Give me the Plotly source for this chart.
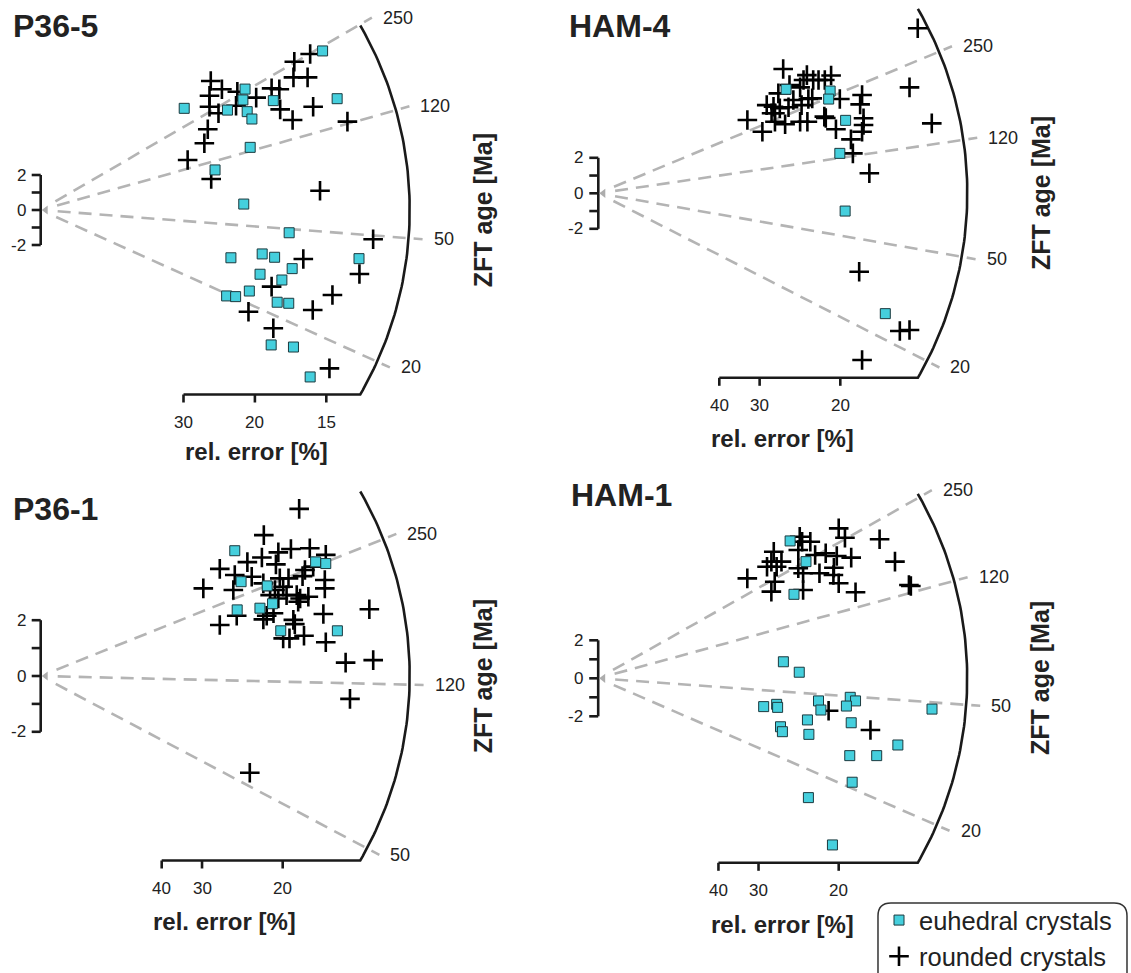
import math
import plotly.graph_objects as go

W, H = 1131, 973
FONT = "Liberation Sans, Arial, sans-serif"
TXT = "#222222"
CYAN = "#45CFDD"
SQ_EDGE = "#1B3A3F"
GREY = "#B4B4B4"

# ---------------- data (precision = 1/rel.error, standardised estimate) ----------------
p365_eu_prec = [6.58, 3.35, 4.77, 4.72, 4.36, 4.82, 4.93, 5.43, 6.92, 4.89, 4.07, 4.74, 5.80, 4.44,
                5.17, 5.46, 5.87, 5.12, 5.63, 4.87, 4.34, 4.55, 5.52, 5.79, 7.43, 5.38, 5.90, 6.29]
p365_eu_z = [9.09, 5.81, 6.91, 6.29, 5.71, 5.62, 5.20, 6.25, 6.36, 3.58, 2.29, 0.34, -1.30, -2.73,
             -2.51, -2.70, -3.35, -3.67, -4.00, -4.63, -4.91, -4.95, -5.27, -5.33, -2.78, -7.71, -7.83, -9.54]
p365_ro_prec = [6.29, 5.92, 6.23, 5.90, 3.97, 4.23, 4.59, 3.94, 5.39, 5.57, 5.03, 4.56, 3.94, 4.15, 5.59, 6.36,
                5.88, 7.16, 3.90, 3.82, 3.43, 3.98, 6.52, 7.76, 6.13, 7.44, 5.39, 6.81, 4.85, 6.35, 5.43, 6.74]
p365_ro_z = [8.91, 8.47, 7.58, 7.58, 7.37, 6.90, 6.76, 6.53, 6.95, 6.90, 6.42, 5.96, 5.90, 5.53, 5.75, 5.90,
             5.14, 5.05, 4.61, 3.81, 2.86, 1.77, 1.10, -1.67, -2.80, -3.66, -4.38, -4.86, -5.81, -5.71, -6.76, -9.05]

ham4_eu_prec = [3.88, 4.79, 4.76, 5.11, 4.99, 5.10, 5.93]
ham4_eu_z = [5.86, 5.76, 5.31, 4.11, 2.25, -1.00, -6.78]
ham4_ro_prec = [6.60, 3.82, 4.31, 4.81, 4.24, 4.44, 4.68, 3.95, 4.17, 6.43, 3.72, 4.03, 4.34, 4.99, 5.45,
                5.41, 3.48, 3.62, 3.75, 3.93, 4.20, 3.65, 3.08, 3.65, 3.86, 4.17, 4.32, 4.67, 4.70, 5.48,
                5.48, 5.45, 4.91, 3.39, 5.22, 5.26, 6.89, 5.60, 5.39, 6.23, 6.43, 5.45, 4.55, 4.42, 3.58]
ham4_ro_z = [9.30, 7.00, 6.66, 6.64, 6.38, 6.38, 6.38, 6.10, 5.97, 5.97, 5.63, 5.26, 5.31, 5.31, 5.54,
             5.01, 4.97, 4.88, 4.79, 4.85, 4.97, 4.51, 4.13, 4.03, 3.89, 4.03, 4.03, 4.32, 4.24, 4.23,
             3.85, 3.47, 3.61, 3.47, 3.04, 2.25, 3.94, 1.13, -4.42, -7.76, -7.70, -9.39, 6.38, 5.35, 4.51]

p361_eu_prec = [4.01, 5.68, 5.89, 4.14, 4.68, 4.79, 4.06, 4.53, 4.96, 6.13]
p361_eu_z = [4.49, 4.09, 4.03, 3.38, 3.23, 2.59, 2.37, 2.43, 1.62, 1.62]
p361_ro_prec = [5.34, 4.61, 5.17, 5.56, 4.91, 4.57, 5.89, 4.27, 4.86, 5.63, 3.70, 4.01, 4.36, 5.41, 4.94, 5.12,
                5.87, 4.60, 3.36, 3.98, 5.01, 5.08, 5.87, 4.74, 5.29, 5.36, 5.53, 4.91, 5.32, 6.79, 4.05, 4.67,
                4.60, 4.81, 5.84, 3.70, 5.22, 5.25, 5.01, 5.14, 5.44, 5.89, 6.30, 6.87, 6.39, 4.32, 5.46, 4.84]
p361_ro_z = [5.99, 5.05, 4.55, 4.58, 4.43, 4.25, 4.34, 4.08, 4.00, 3.92, 3.84, 3.62, 3.56, 3.58, 3.50, 3.50,
             3.44, 3.32, 3.14, 3.08, 3.20, 2.90, 3.14, 2.90, 2.90, 2.78, 2.84, 2.78, 2.66, 2.39, 2.16, 2.16,
             2.03, 2.25, 2.22, 1.83, 2.01, 1.86, 1.35, 1.35, 1.44, 1.21, 0.48, 0.57, -0.82, -3.47, 3.80, 3.08]

ham1_eu_prec = [3.99, 4.32, 4.07, 3.85, 4.18, 3.44, 3.71, 3.73, 4.58, 4.63, 5.24, 5.35, 5.16, 6.94, 4.35,
                5.26, 3.79, 3.83, 4.38, 6.23, 5.23, 5.79, 5.28, 4.37, 4.87]
ham1_eu_z = [7.23, 6.14, 4.42, 0.87, 0.32, -1.49, -1.37, -1.53, -1.19, -1.67, -1.00, -1.19, -1.46, -1.62, -2.19,
             -2.34, -2.55, -2.81, -2.95, -3.51, -4.07, -4.07, -5.47, -6.28, -8.77]
ham1_ro_prec = [5.00, 5.13, 5.85, 4.19, 4.24, 4.41, 4.16, 3.65, 4.51, 4.73, 4.96, 5.26, 3.60, 6.17, 3.51, 3.71,
                4.16, 4.90, 4.60, 4.26, 3.10, 3.67, 5.00, 4.26, 3.60, 5.35, 6.46, 6.50, 4.79, 5.66, 3.81, 4.89]
ham1_ro_z = [7.89, 7.40, 7.32, 7.45, 7.19, 7.19, 6.75, 6.66, 6.49, 6.58, 6.44, 6.35, 6.14, 6.14, 5.87, 5.87,
             5.79, 5.82, 5.53, 5.53, 5.26, 5.08, 5.00, 4.65, 4.56, 4.53, 4.91, 4.86, -1.71, -2.72, 6.14, 5.44]

titles = ["P36-5", "HAM-4", "P36-1", "HAM-1"]
central_age = [60.3, 80.5, 125.0, 60.0]          # Ma, reference age of each radial plot
age_ticks = [[250, 120, 50, 20], [250, 120, 50, 20], [250, 120, 50], [250, 120, 50, 20]]
err_ticks = [[30, 20, 15], [40, 30, 20], [40, 30, 20], [40, 30, 20]]
eu_prec = [p365_eu_prec, ham4_eu_prec, p361_eu_prec, ham1_eu_prec]
eu_z = [p365_eu_z, ham4_eu_z, p361_eu_z, ham1_eu_z]
ro_prec = [p365_ro_prec, ham4_ro_prec, p361_ro_prec, ham1_ro_prec]
ro_z = [p365_ro_z, ham4_ro_z, p361_ro_z, ham1_ro_z]

# ---------------- layout geometry (pixels) ----------------
geom = [
    dict(ox=40.7, oy=210.0, sx=42.84, sy=17.5, box=(0, 560, 0, 485), title=(11, 26), xlab=(256, 451)),
    dict(ox=598.3, oy=193.3, sx=48.4, sy=17.75, box=(560, 1131, 0, 485), title=(567, 26), xlab=(782.5, 439)),
    dict(ox=40.7, oy=676.0, sx=48.4, sy=27.9, box=(0, 560, 485, 973), title=(11, 509), xlab=(224, 921.7)),
    dict(ox=598.2, oy=678.3, sx=48.1, sy=19.0, box=(560, 1131, 485, 973), title=(569, 495), xlab=(782, 924)),
]
R_ARC = 369.0
ARC_DEG = 30.0
LINE_R0, LINE_R1 = 17.0, 383.0
ZFT_DX = 442.5

fig = go.Figure()
annotations = []
layout_axes = {}


def px2paper(px, py):
    return px / W, 1 - py / H


for i in range(4):
    g = geom[i]
    ox, oy, sx, sy = g["ox"], g["oy"], g["sx"], g["sy"]
    x0, x1, y0, y1 = g["box"]
    sfx = "" if i == 0 else str(i + 1)
    xr, yr = "x" + sfx, "y" + sfx
    layout_axes["xaxis" + sfx] = dict(domain=[x0 / W, x1 / W], range=[(x0 - ox) / sx, (x1 - ox) / sx],
                                      visible=False, anchor=yr, fixedrange=True)
    layout_axes["yaxis" + sfx] = dict(domain=[1 - y1 / H, 1 - y0 / H], range=[(oy - y1) / sy, (oy - y0) / sy],
                                      visible=False, anchor=xr, fixedrange=True)

    def line(xs, ys, color, width, dash="solid"):
        fig.add_trace(go.Scatter(x=xs, y=ys, xaxis=xr, yaxis=yr, mode="lines", showlegend=False,
                                 hoverinfo="skip", cliponaxis=False,
                                 line=dict(color=color, width=width, dash=dash)))

    # dashed iso-age lines + labels
    z0 = math.log(central_age[i])
    for t in age_ticks[i]:
        m = math.log(t) - z0
        phi = math.atan2(sy * m, sx)
        xs = [r * math.cos(phi) / sx for r in (LINE_R0, LINE_R1)]
        ys = [r * math.sin(phi) / sy for r in (LINE_R0, LINE_R1)]
        line(xs, ys, GREY, 2.6, "13px,8px")
        annotations.append(dict(x=xs[1], y=ys[1], xref=xr, yref=yr, text=str(t), showarrow=False,
                                xanchor="left", yanchor="middle", xshift=9,
                                font=dict(family=FONT, size=18, color=TXT)))

    # rel. error axis + arc
    a = math.radians(ARC_DEG)
    yb = -R_ARC * math.sin(a) / sy
    xs = [100.0 / err_ticks[i][0]]
    ys = [yb]
    n = 80
    for k in range(n + 1):
        th = -a + 2 * a * k / n
        xs.append(R_ARC * math.cos(th) / sx)
        ys.append(R_ARC * math.sin(th) / sy)
    line(xs, ys, "#1a1a1a", 2.6)
    tx, ty = [], []
    for e in err_ticks[i]:
        tx += [100.0 / e, 100.0 / e, None]
        ty += [yb, yb - 8 / sy, None]
        annotations.append(dict(x=100.0 / e, y=yb, xref=xr, yref=yr, text=str(e), showarrow=False,
                                xanchor="center", yanchor="middle", yshift=-28,
                                font=dict(family=FONT, size=17, color=TXT)))
    line(tx, ty, "#1a1a1a", 2.6)

    # standardised estimate scale bar
    bx, by = [0, 0, None], [-2, 2, None]
    for v in (-2, -1, 0, 1, 2):
        bx += [0, -9 / sx, None]
        by += [v, v, None]
    line(bx, by, "#1a1a1a", 2.6)
    for v in (-2, 0, 2):
        annotations.append(dict(x=0, y=v, xref=xr, yref=yr, text=str(v), showarrow=False,
                                xanchor="right", yanchor="middle", xshift=-13,
                                font=dict(family=FONT, size=17, color=TXT)))
    fig.add_trace(go.Scatter(x=[5 / sx], y=[0], xaxis=xr, yaxis=yr, mode="markers", showlegend=False,
                             hoverinfo="skip", cliponaxis=False,
                             marker=dict(symbol="triangle-left", size=8, color="#ADADAD")))

    # data
    fig.add_trace(go.Scatter(x=ro_prec[i], y=ro_z[i], xaxis=xr, yaxis=yr, mode="markers",
                             name="rounded crystals", showlegend=(i == 0), legendgroup="ro", legendrank=2,
                             cliponaxis=False,
                             marker=dict(symbol="cross-thin", size=14, color="#000000",
                                         line=dict(width=2.6, color="#000000"))))
    fig.add_trace(go.Scatter(x=eu_prec[i], y=eu_z[i], xaxis=xr, yaxis=yr, mode="markers",
                             name="euhedral crystals", showlegend=(i == 0), legendgroup="eu", legendrank=1,
                             cliponaxis=False,
                             marker=dict(symbol="square", size=10, color=CYAN,
                                         line=dict(width=1, color=SQ_EDGE))))

    # texts
    px_, py_ = px2paper(*g["title"])
    annotations.append(dict(x=px_, y=py_, xref="paper", yref="paper", text="<b>" + titles[i] + "</b>",
                            showarrow=False, xanchor="left", yanchor="middle",
                            font=dict(family=FONT, size=32, color=TXT)))
    px_, py_ = px2paper(*g["xlab"])
    annotations.append(dict(x=px_, y=py_, xref="paper", yref="paper", text="<b>rel. error [%]</b>",
                            showarrow=False, xanchor="center", yanchor="middle",
                            font=dict(family=FONT, size=24, color=TXT)))
    px_, py_ = px2paper(ox + ZFT_DX, oy)
    annotations.append(dict(x=px_, y=py_, xref="paper", yref="paper", text="<b>ZFT age [Ma]</b>",
                            showarrow=False, xanchor="center", yanchor="middle", textangle=-90,
                            font=dict(family=FONT, size=25, color=TXT)))

# legend frame (rounded)
lx0, lx1, ly0, ly1, rr = 878, 1127, 903, 985, 13


def P(px, py):
    return "%.5f,%.5f" % (px / W, 1 - py / H)


path = ("M " + P(lx0, ly1) + " L " + P(lx0, ly0 + rr) + " Q " + P(lx0, ly0) + " " + P(lx0 + rr, ly0) +
        " L " + P(lx1 - rr, ly0) + " Q " + P(lx1, ly0) + " " + P(lx1, ly0 + rr) + " L " + P(lx1, ly1))

fig.update_layout(
    width=W, height=H, autosize=False,
    margin=dict(l=0, r=0, t=0, b=0, pad=0, autoexpand=False),
    paper_bgcolor="white", plot_bgcolor="white",
    annotations=annotations,
    shapes=[dict(type="path", path=path, xref="paper", yref="paper",
                 line=dict(color="#333333", width=1.5))],
    showlegend=True,
    legend=dict(x=879 / W, y=1 - 897.0 / H, xanchor="left", yanchor="top",
                bgcolor="rgba(0,0,0,0)", borderwidth=0, itemsizing="trace",
                font=dict(family=FONT, size=25.5, color=TXT), tracegroupgap=0),
    **layout_axes,
)

fig.write_html("out.html", config={"displayModeBar": False, "responsive": False},
               post_script="document.body.style.margin='0px';document.body.style.overflow='hidden';")
